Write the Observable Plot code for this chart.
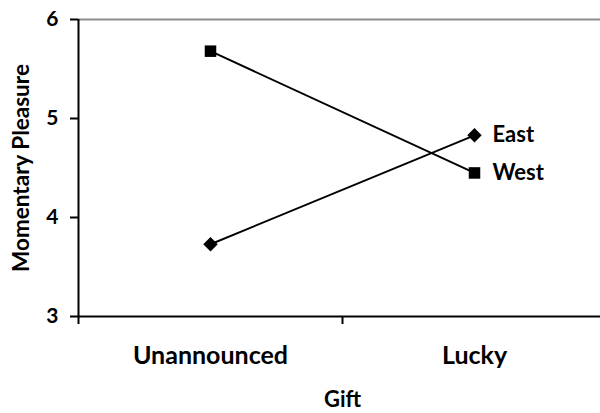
<!DOCTYPE html>
<html><head>
<meta charset="utf-8">
<script src="https://cdn.jsdelivr.net/npm/d3@7"></script>
<script src="https://cdn.jsdelivr.net/npm/@observablehq/plot@0.6"></script>
<style>
body{margin:0;background:#fff}
#c{width:600px;height:413px;overflow:hidden}
#c svg{overflow:visible}
</style>
</head><body><div id="c"></div>
<script>
const gifts = ["Unannounced", "Lucky"];
const seriesNames = ["East", "West"];
const eastValues = [3.73, 4.83];
const westValues = [5.68, 4.45];
const yTicks = [3, 4, 5, 6];
const xAxisTitle = "Gift";
const yAxisTitle = "Momentary Pleasure";

const valuesBySeries = {East: eastValues, West: westValues};
const data = seriesNames.flatMap(s => gifts.map((g, i) => ({series: s, gift: g, pos: i + 0.5, value: valuesBySeries[s][i], last: i === gifts.length - 1})));
const boundaries = d3.range(gifts.length + 1);
const centers = gifts.map((g, i) => i + 0.5);

const font = "Lato, 'Open Sans', sans-serif";
const chart = Plot.plot({
  width: 600,
  height: 413,
  marginLeft: 78,
  marginTop: 19,
  marginBottom: 97,
  marginRight: 0,
  style: {fontFamily: font, fontWeight: "bold", color: "black", background: "white"},
  x: {type: "linear", domain: [0, gifts.length], range: [78, 606]},
  y: {domain: [3, 6]},
  symbol: {domain: seriesNames, range: ["diamond2", "square"]},
  marks: [
    Plot.ruleY([6], {stroke: "#8c8c8c", strokeWidth: 2}),
    Plot.axisY({ticks: yTicks, tickSize: 8, tickPadding: 12, fontSize: 21, tickFormat: d => String(d), label: null, strokeWidth: 2}),
    Plot.axisX({ticks: boundaries, tickSize: 8, tickFormat: () => "", label: null, strokeWidth: 2}),
    Plot.axisX({ticks: centers, tickSize: 0, tickPadding: 30, fontSize: 25, tickFormat: d => gifts[Math.round(d - 0.5)], label: null}),
    Plot.ruleX([0], {stroke: "black", strokeWidth: 2}),
    Plot.ruleY([3], {stroke: "black", strokeWidth: 2}),
    Plot.line(data, {x: "pos", y: "value", z: "series", stroke: "black", strokeWidth: 2}),
    Plot.dot(data, {x: "pos", y: "value", symbol: "series", fill: "black", r: 6.5}),
    Plot.text(data.filter(d => d.last), {x: "pos", y: "value", text: "series", dx: 18, textAnchor: "start", fontSize: 22, fontWeight: "bold"}),
    Plot.text([yAxisTitle], {frameAnchor: "left", textAnchor: "middle", rotate: -90, dx: -57, fontSize: 22.5, fontWeight: "bold"}),
    Plot.text([xAxisTitle], {x: () => gifts.length / 2, frameAnchor: "bottom", dy: 90, fontSize: 22, fontWeight: "bold"})
  ]
});
document.getElementById("c").appendChild(chart);
</script>
</body></html>
